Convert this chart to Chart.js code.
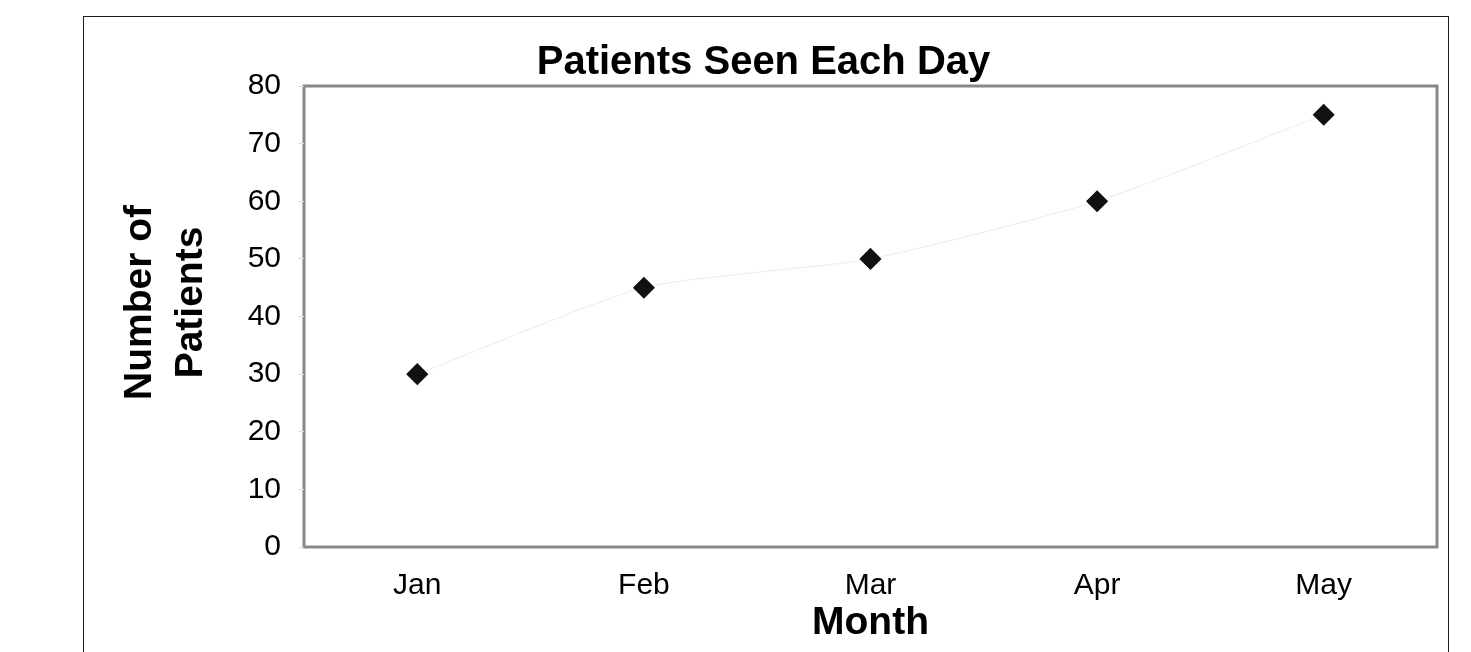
<!DOCTYPE html>
<html>
<head>
<meta charset="utf-8">
<script src="https://cdn.jsdelivr.net/npm/chart.js@4/dist/chart.umd.min.js"></script>
<style>
  html, body { margin: 0; padding: 0; background: #fff; }
  #wrap { width: 1471px; height: 652px; }
</style>
</head>
<body>
<div id="wrap"><canvas id="c" width="1471" height="652"></canvas></div>
<script>
const months = ["Jan", "Feb", "Mar", "Apr", "May"];
const patients = [30, 45, 50, 60, 75];
const yTicks = [0, 10, 20, 30, 40, 50, 60, 70, 80];
const chartTitle = "Patients Seen Each Day";
const xTitle = "Month";
const yTitle = ["Number of", "Patients"];

const FONT = "'Liberation Sans', Arial, sans-serif";

const frame = {
  id: 'frame',
  beforeDraw(chart) {
    const ctx = chart.ctx;
    const a = chart.chartArea;
    ctx.save();
    ctx.fillStyle = '#fff';
    ctx.fillRect(0, 0, chart.width, chart.height);
    ctx.strokeStyle = '#1a1a1a';
    ctx.lineWidth = 1;
    ctx.strokeRect(83.5, 16.5, 1365, 1000);
    ctx.strokeStyle = '#888888';
    ctx.lineWidth = 3;
    ctx.strokeRect(a.left, a.top, a.right - a.left, a.bottom - a.top);
    ctx.restore();
  }
};

new Chart(document.getElementById('c'), {
  type: 'line',
  data: {
    labels: months,
    datasets: [{
      data: patients,
      borderColor: '#ececec',
      borderWidth: 1,
      tension: 0.2,
      pointStyle: 'rectRot',
      pointRadius: 10,
      pointBackgroundColor: '#111111',
      pointBorderColor: '#111111',
      pointBorderWidth: 1.5,
      clip: false
    }]
  },
  options: {
    responsive: false,
    animation: false,
    events: [],
    layout: { padding: { left: 90, right: 34, top: 0, bottom: 0 } },
    plugins: {
      legend: { display: false },
      tooltip: { enabled: false },
      title: {
        display: true,
        text: chartTitle,
        color: '#000',
        font: { family: FONT, size: 40, weight: 'bold', lineHeight: 1.2 },
        padding: { top: 39.1, bottom: -1.1 }
      }
    },
    scales: {
      x: {
        offset: true,
        grid: { display: false },
        border: { display: false },
        ticks: { color: '#000', font: { family: FONT, size: 30 }, padding: 13, maxRotation: 0 },
        title: {
          display: true, text: xTitle, color: '#000',
          font: { family: FONT, size: 39, weight: 'bold', lineHeight: 1.2 },
          padding: { top: 0, bottom: 5 }
        },
        afterFit(s) { s.height = 105; }
      },
      y: {
        min: 0, max: 80,
        afterBuildTicks(s) { s.ticks = yTicks.map(v => ({ value: v })); },
        grid: { display: true, drawOnChartArea: false, drawTicks: true, tickLength: 6, color: '#dddddd' },
        border: { display: false },
        ticks: { color: '#000', font: { family: FONT, size: 30 }, padding: 17 },
        title: {
          display: true, text: yTitle, color: '#000',
          font: { family: FONT, size: 39, weight: 'bold', lineHeight: 1.3 },
          padding: { top: 25, bottom: 0 }
        },
        afterFit(s) {
          s.width = 214;
          if (!s._titleShifted) {
            const orig = s.drawTitle;
            s.drawTitle = function () {
              this.ctx.save();
              this.ctx.translate(0, -14);
              orig.apply(this, arguments);
              this.ctx.restore();
            };
            s._titleShifted = true;
          }
        }
      }
    }
  },
  plugins: [frame]
});
</script>
</body>
</html>
